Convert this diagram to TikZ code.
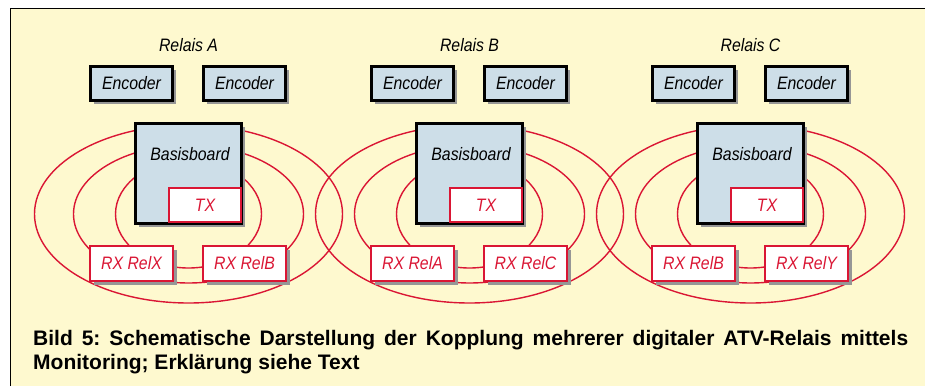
\documentclass[tikz,border=0pt]{standalone}
\usepackage{fontspec}
\usetikzlibrary{shadows}
\newfontfamily\lab[FakeStretch=0.88]{Liberation Sans}
\newfontfamily\capf{Liberation Sans}
\definecolor{bgy}{RGB}{254,249,207}
\definecolor{boxb}{RGB}{205,222,232}
\definecolor{rred}{RGB}{218,22,52}
\definecolor{shadowgray}{RGB}{150,150,150}
\frenchspacing
\begin{document}
\begin{tikzpicture}[x=1pt,y=-1pt,
  boxshadow/.style={drop shadow={shadow xshift=3.5pt,shadow yshift=-3.5pt,fill=shadowgray,opacity=1}},
  lbl/.style={inner sep=0pt,font=\lab\itshape\fontsize{18}{20}\selectfont},
  enc/.style={lbl,draw=black,line width=3pt,fill=boxb,boxshadow,minimum width=82pt,minimum height=34pt},
  bbox/.style={draw=black,line width=3pt,fill=boxb,boxshadow,minimum width=106pt,minimum height=100pt},
  txbox/.style={lbl,text=rred,draw=rred,line width=2pt,fill=white,minimum width=72pt,minimum height=34pt},
  rxbox/.style={lbl,text=rred,draw=rred,line width=2pt,fill=white,boxshadow,minimum width=83pt,minimum height=35pt},
  wave/.style={draw=rred,line width=1.4pt},
  captext/.style={inner sep=0pt,anchor=base west,font=\capf\bfseries\fontsize{21}{24}\selectfont}]
\useasboundingbox (0,0) rectangle (925,386);
\fill[white] (0,0) rectangle (925,386);
\fill[bgy] (10,8) rectangle (925,386);
\draw[line width=1pt] (10,386) -- (10,8) -- (925,8);
\foreach \c in {188.5,469.5,750.5}{
  \draw[wave] (\c,214) ellipse [x radius=154,y radius=89];
  \draw[wave] (\c,214) ellipse [x radius=115,y radius=69];
  \draw[wave] (\c,214) ellipse [x radius=73,y radius=54];
}
\foreach \c/\n/\l/\r in {188.5/A/RelX/RelB,469.5/B/RelA/RelC,750.5/C/RelB/RelY}{
  \node[lbl] (rel\n) at (\c,45) {Relais \n};
  \node[enc] (encL\n) at (\c-57,83.5) {Encoder};
  \node[enc] (encR\n) at (\c+56,83.5) {Encoder};
  \node[bbox] (bb\n) at (\c,173.5) {};
  \node[lbl] (bbt\n) at (\c+1.5,154) {Basisboard};
  \node[txbox] (tx\n) at (\c+16.5,205) {TX};
  \node[rxbox] (rxL\n) at (\c-57,263.5) {RX \l};
  \node[rxbox] (rxR\n) at (\c+56,263.5) {RX \r};
}
\node[captext] (cap1) at (33,345) {\hbox to 875pt{Bild 5: Schematische Darstellung der Kopplung mehrerer digitaler ATV-Relais mittels}};
\node[captext] (cap2) at (33,369) {Monitoring; Erklärung siehe Text};
\end{tikzpicture}
\end{document}
